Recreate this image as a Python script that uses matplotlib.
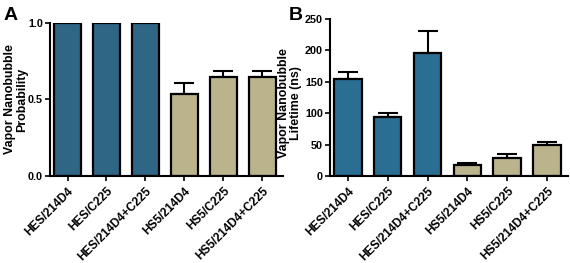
import numpy as np
import matplotlib
matplotlib.use("Agg")
import matplotlib.pyplot as plt

plt.rcParams['font.family'] = ['Liberation Sans', 'DejaVu Sans']
plt.rcParams['font.weight'] = 'bold'

groups = ["HES/214D4", "HES/C225", "HES/214D4+C225",
          "HS5/214D4", "HS5/C225", "HS5/214D4+C225"]

# panel A: probability
prob = [1.0, 1.0, 1.0, 0.535, 0.645, 0.645]
prob_err = [0.0, 0.0, 0.0, 0.07, 0.04, 0.04]

# panel B: lifetime (ns)
life = [155, 94, 196, 18, 29, 49]
life_err = [10, 6, 35, 3, 6, 5]

blue_a = "#2f6585"
blue_b = "#2b6e94"
tan = "#bab38b"

fig = plt.figure(figsize=(5.7, 2.63), dpi=100)
axA = fig.add_axes([0.0877, 0.331, 0.408, 0.582])
axB = fig.add_axes([0.579, 0.331, 0.417, 0.597])


def draw(ax, vals, errs, blue, ylim, yticks, ylabel):
    x = np.arange(len(vals))
    colors = [blue] * 3 + [tan] * 3
    ax.bar(x, vals, width=0.69, color=colors, edgecolor="black", linewidth=1.6, zorder=2)
    ax.errorbar(x, vals, yerr=[np.zeros(len(errs)), errs], fmt="none", ecolor="black",
                elinewidth=1.5, capsize=7, capthick=1.5, zorder=1)
    ax.set_xlim(-0.45, 5.52)
    ax.set_ylim(*ylim)
    ax.set_yticks(yticks)
    ax.set_xticks(x)
    ax.set_xticklabels(groups, rotation=45, ha="right", rotation_mode="anchor",
                       fontsize=8.6, fontweight="bold")
    for lab in ax.get_yticklabels():
        lab.set_fontsize(7.8)
        lab.set_fontweight("bold")
    ax.spines["top"].set_visible(False)
    ax.spines["right"].set_visible(False)
    ax.spines["left"].set_linewidth(1.5)
    ax.spines["bottom"].set_linewidth(1.5)
    ax.tick_params(width=1.2, length=3.5, pad=1.5)
    ax.tick_params(axis="x", pad=3)
    ax.set_ylabel(ylabel, fontsize=8.9, fontweight="bold", linespacing=1.0)


draw(axA, prob, prob_err, blue_a, (0, 1.0), [0.0, 0.5, 1.0], "Vapor Nanobubble\nProbability")
axA.set_yticklabels(["0.0", "0.5", "1.0"])
axA.yaxis.set_label_coords(-0.095, 0.5)
draw(axB, life, life_err, blue_b, (0, 250), [0, 50, 100, 150, 200, 250],
     "Vapor Nanobubble\nLifetime (ns)")
axB.yaxis.set_label_coords(-0.118, 0.465)

fig.text(0.007, 0.925, "A", fontsize=14, fontweight="bold")
fig.text(0.507, 0.925, "B", fontsize=14, fontweight="bold")

fig.savefig("out.png", dpi=100)
